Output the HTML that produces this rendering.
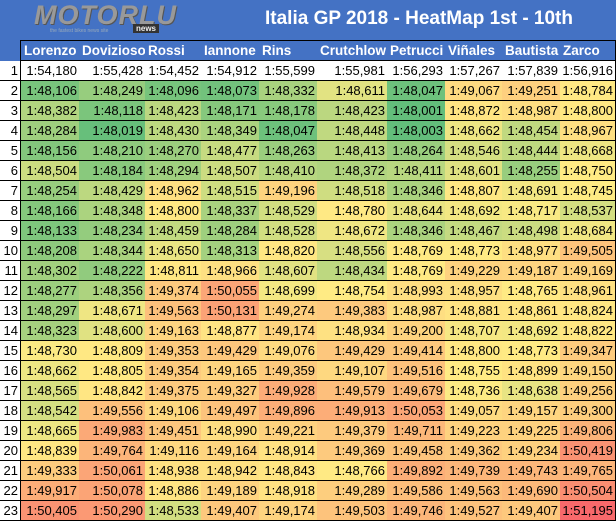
<!DOCTYPE html>
<html><head><meta charset="utf-8"><style>
body{margin:0;width:616px;height:521px;overflow:hidden;background:#4472C4;font-family:"Liberation Sans",sans-serif;position:relative}
.c{position:absolute;box-sizing:border-box;font-size:13px;line-height:19px;text-align:right;padding-right:2px;color:#000;border-right:1px solid #000;border-bottom:1px solid #000;white-space:nowrap}
.h{background:#4472C4;color:#fff;font-weight:bold;font-size:13.5px;text-align:left;padding-left:3px;line-height:20px;border-top:1px solid #000}
#title{position:absolute;left:265px;top:8px;color:#fff;font-weight:bold;font-size:19px}
#logo{position:absolute;left:34px;top:0px;color:#999;font-style:italic;font-weight:bold;font-size:27px;letter-spacing:1px;text-shadow:1px 1px 0 #555}
#tag{position:absolute;left:50px;top:28px;color:#9ab;font-size:5px}
#news{position:absolute;left:133px;top:24px;background:#333;color:#eee;font-size:8px;font-weight:bold;padding:0 3px}
</style></head><body>
<div id="logo">MOTORLU</div><div id="tag">the fastest bikes news site</div><div id="news">news</div>
<div id="title">Italia GP 2018 - HeatMap 1st - 10th</div>
<div id="t"></div>
<script>
var xs=[0,21,80,146,202,260,318,388,446,503,561,616];
var names=["Lorenzo","Dovizioso","Rossi","Iannone","Rins","Crutchlow","Petrucci","Viñales","Bautista","Zarco"];
var r1=["1:54,180","1:55,428","1:54,452","1:54,912","1:55,599","1:55,981","1:56,293","1:57,267","1:57,839","1:56,916"];
var d=`48,106 48,249 48,096 48,073 48,332 48,611 48,047 49,067 49,251 48,784
48,382 48,118 48,423 48,171 48,178 48,423 48,001 48,872 48,987 48,800
48,284 48,019 48,430 48,349 48,047 48,448 48,003 48,662 48,454 48,967
48,156 48,210 48,270 48,477 48,263 48,413 48,264 48,546 48,444 48,668
48,504 48,184 48,294 48,507 48,410 48,372 48,411 48,601 48,255 48,750
48,254 48,429 48,962 48,515 49,196 48,518 48,346 48,807 48,691 48,745
48,166 48,348 48,800 48,337 48,529 48,780 48,644 48,692 48,717 48,537
48,133 48,234 48,459 48,284 48,528 48,672 48,346 48,467 48,498 48,684
48,208 48,344 48,650 48,313 48,820 48,556 48,769 48,773 48,977 49,505
48,302 48,222 48,811 48,966 48,607 48,434 48,769 49,229 49,187 49,169
48,277 48,356 49,374 50,055 48,699 48,754 48,993 48,957 48,765 48,961
48,297 48,671 49,563 50,131 49,274 49,383 48,987 48,881 48,861 48,824
48,323 48,600 49,163 48,877 49,174 48,934 49,200 48,707 48,692 48,822
48,730 48,809 49,353 49,429 49,076 49,429 49,414 48,800 48,773 49,347
48,662 48,805 49,354 49,165 49,359 49,107 49,516 48,755 48,899 49,150
48,565 48,842 49,375 49,327 49,928 49,579 49,679 48,736 48,638 49,256
48,542 49,556 49,106 49,497 49,896 49,913 50,053 49,057 49,157 49,300
48,665 49,983 49,451 48,990 49,221 49,379 49,711 49,223 49,225 49,806
48,839 49,764 49,116 49,164 48,914 49,369 49,458 49,362 49,234 50,419
49,333 50,061 48,938 48,942 48,843 48,766 49,892 49,739 49,743 49,765
49,917 50,078 48,886 49,189 48,918 49,289 49,586 49,563 49,690 50,504
50,405 50,290 48,533 49,407 49,174 49,503 49,746 49,527 49,407 51,195`.split("\n").map(function(l){return l.trim().split(" ")});
function col(v){var g=[99,190,123],y=[255,235,132],r=[248,105,107],a,b,t;
if(v<=48.75){a=g;b=y;t=(v-48.001)/(48.75-48.001)}else{a=y;b=r;t=(v-48.75)/(51.195-48.75)}
t=Math.max(0,Math.min(1,t));return "rgb("+a.map(function(x,i){return Math.round(x+(b[i]-x)*t)}).join(",")+")"}
var h="";
function cell(x0,x1,y,hh,txt,bg,cls,extra){h+='<div class="c '+(cls||"")+'" style="left:'+x0+'px;width:'+(x1-x0)+'px;top:'+y+'px;height:'+hh+'px;background:'+bg+';'+(extra||"")+'">'+txt+'</div>'}
for(var j=0;j<10;j++)cell(xs[j+1]-1,xs[j+2],40,21,names[j],"#4472C4","h",j==0?"border-left:1px solid #000":"");
for(var i=0;i<23;i++){var y=61+i*20;
cell(0,xs[1],y,20,String(i+1),"#fff","");
for(var j=0;j<10;j++){var txt,bg;if(i==0){txt=r1[j];bg="#fff"}else{var s=d[i-1][j];txt="1:"+s;bg=col(parseFloat(s.replace(",",".")))}
cell(xs[j+1]-1,xs[j+2],y,20,txt,bg,"",j==0?"border-left:1px solid #000":"");}}
document.getElementById("t").innerHTML=h;
</script>
</body></html>
